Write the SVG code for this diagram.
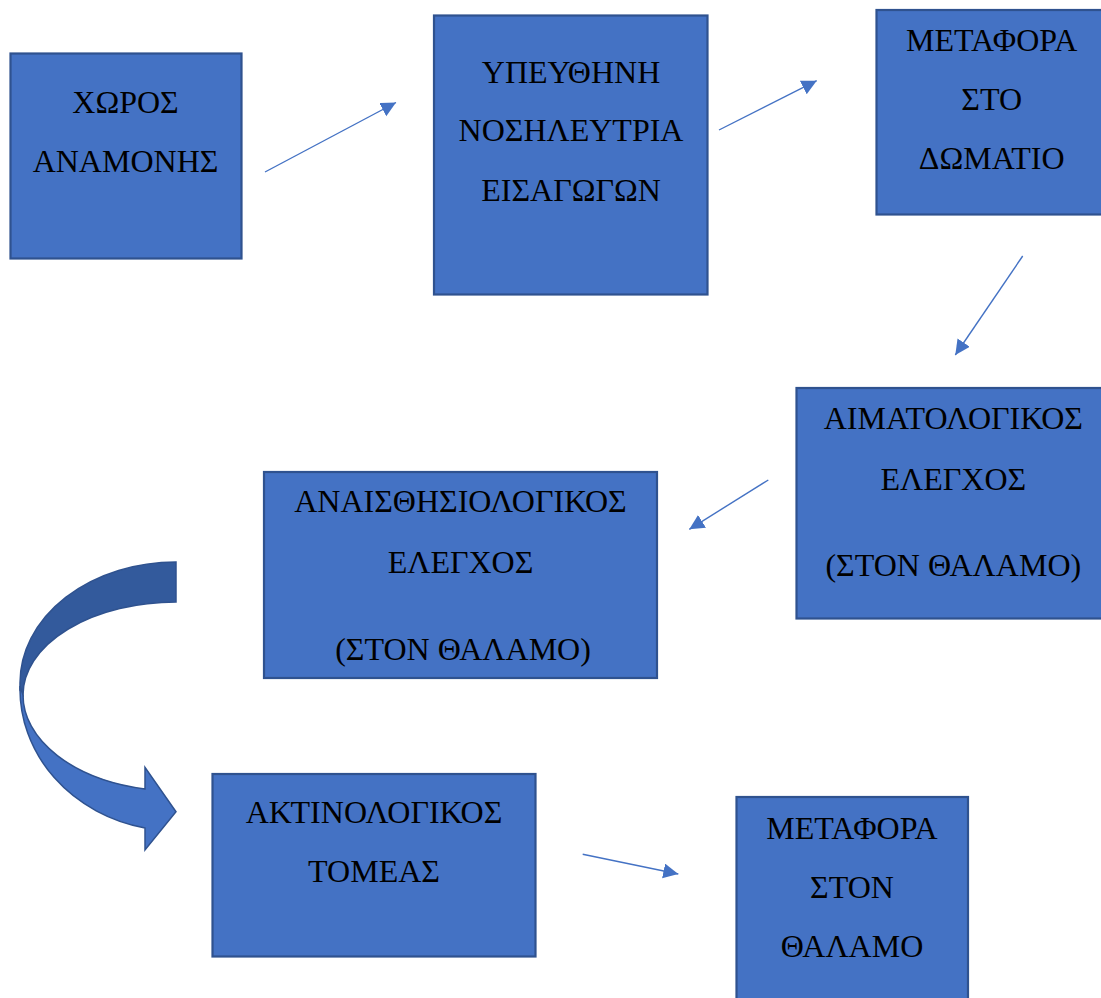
<svg xmlns="http://www.w3.org/2000/svg" width="1101" height="998" viewBox="0 0 1101 998">
<style>
.box{fill:#4472C4;stroke:#2F528F;stroke-width:2.2}
.t{font-family:"Liberation Serif","Times New Roman",serif;font-size:32px;fill:#000;text-anchor:middle}
.ln{stroke:#4472C4;stroke-width:1.4;fill:none;marker-end:url(#ah)}
.bk{fill:#335A9C;stroke:#2F528F;stroke-width:1.5}
.fr{fill:#4472C4;stroke:#2F528F;stroke-width:1.5}
</style>
<defs>
<marker id="ah" markerUnits="userSpaceOnUse" markerWidth="17" markerHeight="16" refX="15" refY="7.5" orient="auto">
<path d="M0,0 L15,7.5 L0,15 Z" fill="#4472C4"/>
</marker>
</defs>
<rect width="1101" height="998" fill="#fff"/>
<g id="n1">
<rect class="box" x="10.5" y="53.5" width="231" height="205"/>
<text class="t" x="125.5" y="112.7">ΧΩΡΟΣ</text>
<text class="t" x="125.5" y="171.7">ΑΝΑΜΟΝΗΣ</text>
</g>
<g id="n2">
<rect class="box" x="434" y="15.5" width="273.5" height="279"/>
<text class="t" x="571" y="82.7">ΥΠΕΥΘΗΝΗ</text>
<text class="t" x="571" y="141">ΝΟΣΗΛΕΥΤΡΙΑ</text>
<text class="t" x="571" y="200.7">ΕΙΣΑΓΩΓΩΝ</text>
</g>
<g id="n3">
<rect class="box" x="876.5" y="10" width="240" height="204.5"/>
<text class="t" x="991.7" y="50.7">ΜΕΤΑΦΟΡΑ</text>
<text class="t" x="991.7" y="110">ΣΤΟ</text>
<text class="t" x="991.7" y="169.3">ΔΩΜΑΤΙΟ</text>
</g>
<g id="n4">
<rect class="box" x="796.5" y="388" width="320" height="230.5"/>
<text class="t" x="953.3" y="429.3">ΑΙΜΑΤΟΛΟΓΙΚΟΣ</text>
<text class="t" x="953.3" y="490">ΕΛΕΓΧΟΣ</text>
<text class="t" x="953.3" y="575.7">(ΣΤΟΝ ΘΑΛΑΜΟ)</text>
</g>
<g id="n5">
<rect class="box" x="264" y="472" width="393" height="206"/>
<text class="t" x="460.5" y="512.3">ΑΝΑΙΣΘΗΣΙΟΛΟΓΙΚΟΣ</text>
<text class="t" x="460.5" y="573.3">ΕΛΕΓΧΟΣ</text>
<text class="t" x="463" y="660">(ΣΤΟΝ ΘΑΛΑΜΟ)</text>
</g>
<g id="n6">
<rect class="box" x="212.5" y="774" width="323" height="182.5"/>
<text class="t" x="374" y="822.7">ΑΚΤΙΝΟΛΟΓΙΚΟΣ</text>
<text class="t" x="374" y="881.7">ΤΟΜΕΑΣ</text>
</g>
<g id="n7">
<rect class="box" x="736.5" y="797" width="231.5" height="215"/>
<text class="t" x="852" y="839.3">ΜΕΤΑΦΟΡΑ</text>
<text class="t" x="852" y="898.3">ΣΤΟΝ</text>
<text class="t" x="852" y="957.3">ΘΑΛΑΜΟ</text>
</g>
<g id="connectors">
<line class="ln" x1="265" y1="172" x2="396" y2="102.5"/>
<line class="ln" x1="719" y1="130" x2="816.7" y2="80.7"/>
<line class="ln" x1="1022.7" y1="256" x2="955.3" y2="355"/>
<line class="ln" x1="768.3" y1="480" x2="689.3" y2="529.3"/>
<line class="ln" x1="582.7" y1="854.3" x2="678.3" y2="874"/>
<g id="curved-arrow">
<path class="bk" d="M176,562 A156,121 0 0 0 20,683 L20,690 L23,695 A153,93 0 0 1 176,602 Z"/>
<path class="fr" d="M20,686 A156,142 0 0 0 145,828 L145,850 L176,811.7 L145,767.3 L145,789 A153,96 0 0 1 23,695 Z"/>
</g>
</g>
</svg>
